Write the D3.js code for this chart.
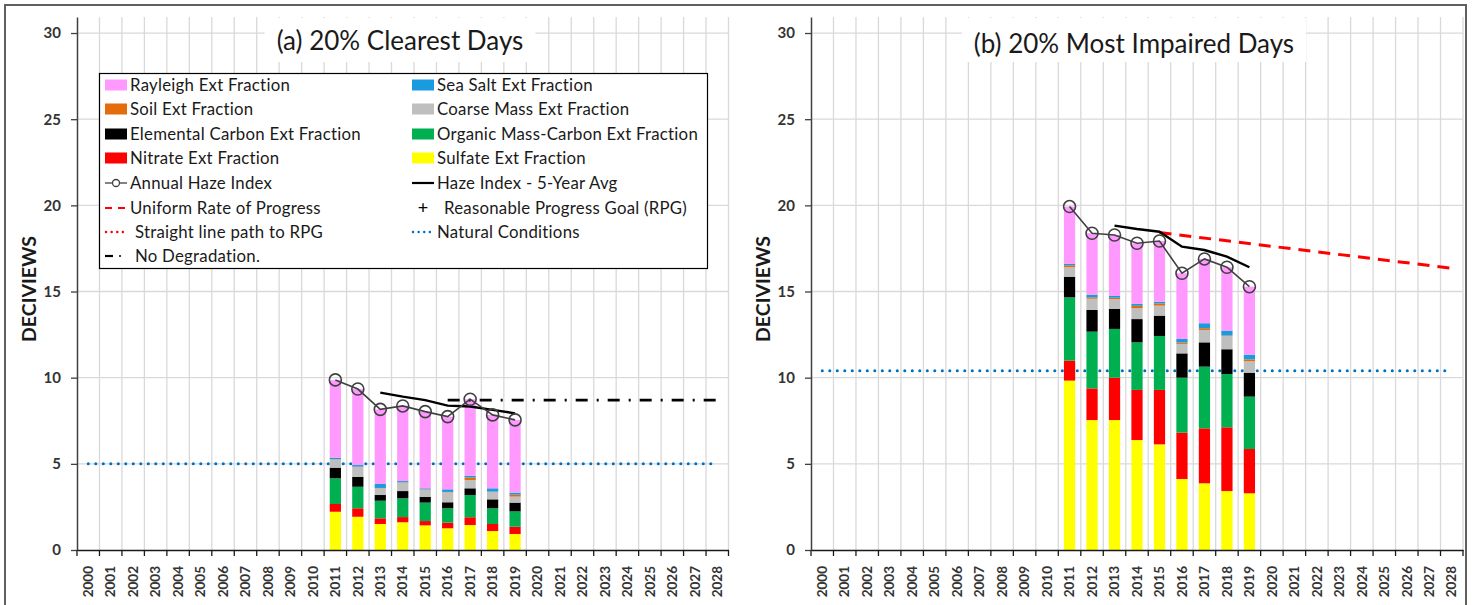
<!DOCTYPE html>
<html><head><meta charset="utf-8">
<script src="https://cdn.jsdelivr.net/npm/d3@7"></script>
<style>
body{margin:0;background:#fff}
svg{display:block}
text{font-family:Lato,"Open Sans",sans-serif}
</style>
</head><body>
<svg id="c" width="1475" height="605"></svg>
<script>
// ---------- DATA ----------
const yearLabels = ["2000","2001","2002","2003","2004","2005","2006","2007","2008","2009","2010","2011","2012","2013","2014","2015","2016","2017","2018","2019","2020","2021","2022","2023","2024","2025","2026","2027","2028"];
const dataYears = ["2011","2012","2013","2014","2015","2016","2017","2018","2019"];
const avgYears = ["2013","2014","2015","2016","2017","2018","2019"];
const yTicks = [0,5,10,15,20,25,30];

const componentNames = ["Sulfate Ext Fraction","Nitrate Ext Fraction","Organic Mass-Carbon Ext Fraction","Elemental Carbon Ext Fraction","Coarse Mass Ext Fraction","Soil Ext Fraction","Sea Salt Ext Fraction","Rayleigh Ext Fraction"];
const componentColors = ["#FFFF00","#FF0000","#00B050","#000000","#BFBFBF","#E46C0A","#1A9BE0","#FF99FF"];

// (a) 20% Clearest Days  (deciviews, stacked from bottom)
const clearSulfate  = [2.22,1.93,1.51,1.61,1.43,1.26,1.45,1.10,0.93];
const clearNitrate  = [0.45,0.49,0.33,0.30,0.25,0.33,0.45,0.41,0.42];
const clearOM       = [1.49,1.25,1.02,1.09,1.07,0.83,1.29,0.91,0.89];
const clearEC       = [0.62,0.58,0.33,0.42,0.34,0.35,0.39,0.52,0.51];
const clearCoarse   = [0.47,0.57,0.39,0.49,0.41,0.58,0.48,0.43,0.35];
const clearSoil     = [0.02,0.02,0.02,0.02,0.02,0.02,0.15,0.02,0.11];
const clearSeaSalt  = [0.09,0.09,0.23,0.07,0.06,0.15,0.10,0.19,0.12];
const clearRayleigh = [4.49,4.41,4.33,4.36,4.45,4.22,4.44,4.26,4.22];
const clearHaze     = [9.87,9.34,8.16,8.36,8.03,7.74,8.75,7.84,7.55];
const clearAvg5     = [9.13,8.90,8.70,8.38,8.33,8.13,7.93];
const clearNatural  = 5.0;
const clearNoDegYears = ["2016","2028"];
const clearNoDeg    = [8.7,8.7];

// (b) 20% Most Impaired Days
const impSulfate  = [9.83,7.54,7.54,6.38,6.13,4.12,3.87,3.42,3.29];
const impNitrate  = [1.16,1.84,2.46,2.91,3.16,2.69,3.19,3.70,2.57];
const impOM       = [3.67,3.29,2.83,2.76,3.13,3.19,3.58,3.09,3.04];
const impEC       = [1.20,1.26,1.17,1.35,1.18,1.41,1.41,1.44,1.39];
const impCoarse   = [0.55,0.65,0.56,0.63,0.58,0.55,0.72,0.77,0.66];
const impSoil     = [0.11,0.08,0.08,0.14,0.13,0.08,0.10,0.03,0.11];
const impSeaSalt  = [0.08,0.16,0.10,0.11,0.10,0.21,0.29,0.28,0.27];
const impRayleigh = [3.33,3.56,3.54,3.52,3.52,3.81,3.73,3.68,3.95];
const impHaze     = [19.93,18.38,18.28,17.80,17.93,16.06,16.89,16.41,15.28];
const impAvg5     = [18.82,18.63,18.47,17.60,17.41,17.02,16.41];
const impNatural  = 10.4;
const impURPYears = ["2015","2028"];
const impURP      = [18.42,16.35];

// ---------- CHART ----------
const svg = d3.select("#c");
const FONT = 'Lato,"Open Sans",sans-serif';

// outer frame
svg.append("rect").attr("x",5).attr("y",5).attr("width",1461).attr("height",610)
  .attr("fill","none").attr("stroke","#606060").attr("stroke-width",2);

const yTop = 17, yBot = 550;

function drawPanel(p){
  const x = d3.scaleBand().domain(yearLabels).range([p.x0,p.x1]).padding(0);
  const y = d3.scaleLinear().domain([0,30.93]).range([yBot,yTop]);
  const g = svg.append("g");
  const step = x.step();
  const cx = d => x(d) + step/2;

  // gridlines
  g.append("g").selectAll("line").data(yearLabels.slice(1).concat(["end"])).join("line")
    .attr("x1",(d,i)=> p.x0 + step*(i+1)).attr("x2",(d,i)=> p.x0 + step*(i+1))
    .attr("y1",yTop).attr("y2",yBot).attr("stroke","#D9D9D9").attr("stroke-width",1.3);
  g.append("g").selectAll("line").data(yTicks.slice(1)).join("line")
    .attr("x1",p.x0).attr("x2",p.x1).attr("y1",d=>y(d)).attr("y2",d=>y(d))
    .attr("stroke","#D9D9D9").attr("stroke-width",1.3);

  // title box
  const tb = g.append("g");
  const tt = tb.append("text").attr("x",p.titleX).attr("y",p.titleY).attr("text-anchor","middle")
    .attr("font-size",26).attr("fill","#1a1a1a").text(p.title);
  const bb = tt.node().getBBox();
  tb.insert("rect","text").attr("x",bb.x-12).attr("y",yTop+1).attr("width",bb.width+24).attr("height",44).attr("fill","#fff");

  // natural conditions
  g.append("line").attr("x1",cx("2000")).attr("x2",cx("2028"))
    .attr("y1",y(p.natural)).attr("y2",y(p.natural))
    .attr("stroke","#0070C0").attr("stroke-width",3).attr("stroke-linecap","round")
    .attr("stroke-dasharray","0.1 7.4");

  // stacked bars
  const bw = step*0.5;
  const rows = dataYears.map((yr,i)=>{
    const o = {year:yr}; p.comps.forEach((arr,k)=> o["c"+k]=arr[i]); return o;
  });
  const keys = p.comps.map((a,k)=>"c"+k);
  const series = d3.stack().keys(keys)(rows);
  g.append("g").selectAll("g").data(series).join("g").attr("fill",(s,k)=>componentColors[k])
    .selectAll("rect").data(s=>s).join("rect")
    .attr("x",d=>cx(d.data.year)-bw/2).attr("width",bw)
    .attr("y",d=>y(d[1])).attr("height",d=>Math.max(0,y(d[0])-y(d[1])));

  // extra lines
  if(p.noDeg){
    g.append("line").attr("x1",cx(p.noDegYears[0])).attr("x2",cx(p.noDegYears[1]))
      .attr("y1",y(p.noDeg[0])).attr("y2",y(p.noDeg[1]))
      .attr("stroke","#000").attr("stroke-width",2.6).attr("stroke-dasharray","12 9 2 9");
  }
  if(p.urp){
    g.append("line").attr("x1",cx(p.urpYears[0])).attr("x2",cx(p.urpYears[1]))
      .attr("y1",y(p.urp[0])).attr("y2",y(p.urp[1]))
      .attr("stroke","#FF0000").attr("stroke-width",3).attr("stroke-dasharray","12 8");
  }

  // 5-year average
  g.append("path").datum(avgYears.map((yr,i)=>[cx(yr),y(p.avg[i])]))
    .attr("d",d3.line()).attr("fill","none").attr("stroke","#000").attr("stroke-width",2.4);

  // annual haze index
  const hz = dataYears.map((yr,i)=>[cx(yr),y(p.haze[i])]);
  g.append("path").datum(hz).attr("d",d3.line()).attr("fill","none").attr("stroke","#404040").attr("stroke-width",1.6);
  g.append("g").selectAll("circle").data(hz).join("circle")
    .attr("cx",d=>d[0]).attr("cy",d=>d[1]).attr("r",6)
    .attr("fill","none").attr("stroke","#404040").attr("stroke-width",1.6);

  // y axis
  const ya = g.append("g").attr("transform",`translate(${p.x0},0)`)
    .call(d3.axisLeft(y).tickValues(yTicks).tickSize(6).tickSizeOuter(0).tickPadding(10));
  ya.select(".domain").attr("stroke","#404040").attr("stroke-width",1.5);
  ya.selectAll(".tick line").attr("stroke","#404040").attr("stroke-width",1.3);
  ya.selectAll(".tick text").attr("font-family",FONT).attr("font-size",15).attr("font-weight","bold").attr("fill","#333");

  // x axis
  const xa = g.append("g").attr("transform",`translate(0,${yBot})`)
    .call(d3.axisBottom(x).tickSize(0).tickSizeOuter(0));
  xa.select(".domain").attr("stroke","#1a1a1a").attr("stroke-width",1.5);
  xa.selectAll(".tick text").attr("font-family",FONT).attr("font-size",13.5).attr("font-weight","bold").attr("fill","#333")
    .attr("transform","rotate(-90)").attr("text-anchor","end").attr("x",-16).attr("y",0).attr("dy","0.35em");
  g.append("g").selectAll("line").data(yearLabels.concat(["end"])).join("line")
    .attr("x1",(d,i)=>p.x0+step*i).attr("x2",(d,i)=>p.x0+step*i)
    .attr("y1",yBot).attr("y2",yBot+6).attr("stroke","#1a1a1a").attr("stroke-width",1.3);

  // y label
  g.append("text").attr("transform",`translate(${p.yLabelX},289) rotate(-90)`)
    .attr("text-anchor","middle").attr("dy","0.35em").attr("font-size",19.5).attr("font-weight","bold")
    .attr("fill","#1a1a1a").text("DECIVIEWS");
}

drawPanel({x0:77,x1:728.5,title:"(a) 20% Clearest Days",titleX:400,titleY:50,yLabelX:29,
  comps:[clearSulfate,clearNitrate,clearOM,clearEC,clearCoarse,clearSoil,clearSeaSalt,clearRayleigh],
  haze:clearHaze,avg:clearAvg5,natural:clearNatural,noDeg:clearNoDeg,noDegYears:clearNoDegYears});
drawPanel({x0:811,x1:1463,title:"(b) 20% Most Impaired Days",titleX:1134,titleY:53,yLabelX:763,
  comps:[impSulfate,impNitrate,impOM,impEC,impCoarse,impSoil,impSeaSalt,impRayleigh],
  haze:impHaze,avg:impAvg5,natural:impNatural,urp:impURP,urpYears:impURPYears});

// ---------- LEGEND ----------
const lg = svg.append("g");
lg.append("rect").attr("x",99.5).attr("y",73.5).attr("width",608).attr("height",195)
  .attr("fill","#fff").attr("stroke","#000").attr("stroke-width",1.2);
const rowY = [85,109,134,158,183,208,232,256];
const col1 = 105, col2 = 412, sw = 22;
const legendItems = [
  {c:col1,r:0,type:"rect",color:componentColors[7],label:componentNames[7]},
  {c:col2,r:0,type:"rect",color:componentColors[6],label:componentNames[6]},
  {c:col1,r:1,type:"rect",color:componentColors[5],label:componentNames[5]},
  {c:col2,r:1,type:"rect",color:componentColors[4],label:componentNames[4]},
  {c:col1,r:2,type:"rect",color:componentColors[3],label:componentNames[3]},
  {c:col2,r:2,type:"rect",color:componentColors[2],label:componentNames[2]},
  {c:col1,r:3,type:"rect",color:componentColors[1],label:componentNames[1]},
  {c:col2,r:3,type:"rect",color:componentColors[0],label:componentNames[0]},
  {c:col1,r:4,type:"haze",label:"Annual Haze Index"},
  {c:col2,r:4,type:"avg",label:"Haze Index - 5-Year Avg"},
  {c:col1,r:5,type:"urp",label:"Uniform Rate of Progress"},
  {c:col2,r:5,type:"plus",label:"Reasonable Progress Goal (RPG)"},
  {c:col1,r:6,type:"rdot",label:"Straight line path to RPG"},
  {c:col2,r:6,type:"bdot",label:"Natural Conditions"},
  {c:col1,r:7,type:"dd",label:"No Degradation."}
];
legendItems.forEach(it=>{
  const yy = rowY[it.r];
  let tx = it.c + sw + 3;
  if(it.type==="rect"){
    lg.append("rect").attr("x",it.c).attr("y",yy-5.5).attr("width",sw).attr("height",11).attr("fill",it.color);
  } else if(it.type==="haze"){
    lg.append("line").attr("x1",it.c).attr("x2",it.c+sw).attr("y1",yy).attr("y2",yy).attr("stroke","#404040").attr("stroke-width",1.3);
    lg.append("circle").attr("cx",it.c+sw/2).attr("cy",yy).attr("r",3.5).attr("fill","#fff").attr("stroke","#404040").attr("stroke-width",1.3);
  } else if(it.type==="avg"){
    lg.append("line").attr("x1",it.c).attr("x2",it.c+sw).attr("y1",yy).attr("y2",yy).attr("stroke","#000").attr("stroke-width",2.2);
  } else if(it.type==="urp"){
    lg.append("line").attr("x1",it.c).attr("x2",it.c+sw).attr("y1",yy).attr("y2",yy).attr("stroke","#FF0000").attr("stroke-width",2.2).attr("stroke-dasharray","7 6");
  } else if(it.type==="plus"){
    lg.append("text").attr("x",it.c+11).attr("y",yy).attr("dy","0.35em").attr("text-anchor","middle").attr("font-size",18).attr("fill","#000").text("+");
    tx = it.c + 32;
  } else if(it.type==="rdot"){
    lg.append("line").attr("x1",it.c+1).attr("x2",it.c+sw).attr("y1",yy).attr("y2",yy).attr("stroke","#FF0000").attr("stroke-width",2.4).attr("stroke-linecap","round").attr("stroke-dasharray","0.1 5.5");
    tx = it.c + sw + 8;
  } else if(it.type==="bdot"){
    lg.append("line").attr("x1",it.c+1).attr("x2",it.c+sw).attr("y1",yy).attr("y2",yy).attr("stroke","#0070C0").attr("stroke-width",2.4).attr("stroke-linecap","round").attr("stroke-dasharray","0.1 5.5");
  } else if(it.type==="dd"){
    lg.append("line").attr("x1",it.c).attr("x2",it.c+8).attr("y1",yy).attr("y2",yy).attr("stroke","#000").attr("stroke-width",2.2);
    lg.append("circle").attr("cx",it.c+15).attr("cy",yy).attr("r",1).attr("fill","#000");
    tx = it.c + sw + 8;
  }
  lg.append("text").attr("x",tx).attr("y",yy).attr("dy","0.35em").attr("font-size",16.8).attr("letter-spacing",0.25).attr("fill","#1a1a1a").text(it.label);
});
</script>
</body></html>
